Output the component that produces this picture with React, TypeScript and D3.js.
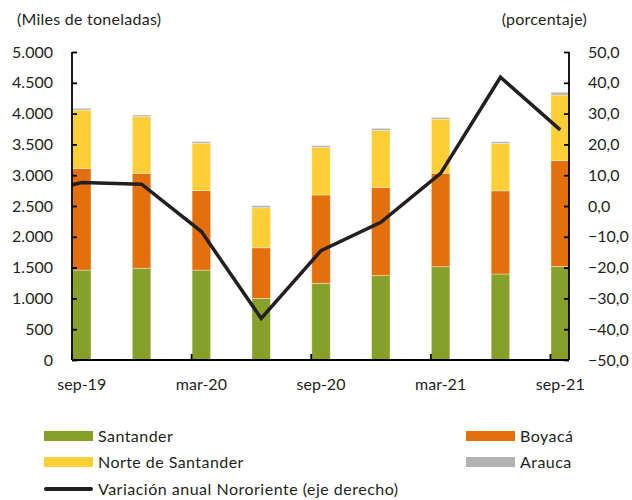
import { useEffect, useRef } from 'react';
import * as d3 from 'd3';

// quarterly data, sep-19 .. sep-21
const quarters = ['sep-19', 'dic-19', 'mar-20', 'jun-20', 'sep-20', 'dic-20', 'mar-21', 'jun-21', 'sep-21'];
const santander = [1460, 1490, 1460, 1000, 1245, 1370, 1515, 1396, 1520];
const boyaca = [1650, 1540, 1290, 822, 1434, 1433, 1516, 1350, 1716];
const norteSantander = [948, 920, 770, 650, 773, 925, 880, 770, 1066];
const arauca = [28, 27, 27, 33, 27, 33, 27, 27, 44];
// annual variation (%), jun-19 is only partly visible (clipped at the left axis)
const variacionPrev = 3.0;
const variacion = [7.6, 7.1, -8.3, -36.5, -14.5, -5.3, 10.6, 41.8, 24.7];

const leftTicks = [0, 500, 1000, 1500, 2000, 2500, 3000, 3500, 4000, 4500, 5000];
const rightTicks = [-50, -40, -30, -20, -10, 0, 10, 20, 30, 40, 50];
const labelEvery = 2;

const seriesNames = ['Santander', 'Boyacá', 'Norte de Santander', 'Arauca'];
const colors = ['#86a02a', '#e3700c', '#fdcf37', '#b2b2b2'];

const App = () => {
    const svgRef = useRef(null);
    const width = 632;
    const height = 500;
    const font = 'Lato, "Open Sans", sans-serif';
    const textColor = '#231f20';

    useEffect(() => {
        const svg = d3.select(svgRef.current);
        svg.selectAll('*').remove();

        const left = 72;
        const right = 569;
        const top = 52;
        const bottom = 360;
        const barW = 18.5;

        const x = d3.scaleLinear().domain([0, quarters.length - 1]).range([left, right - barW]);
        const yL = d3.scaleLinear().domain([0, 5000]).range([bottom, top]);
        const yR = d3.scaleLinear().domain([-50, 50]).range([bottom, top]);

        const rows = quarters.map((q, i) => ({
            q, i,
            Santander: santander[i],
            'Boyacá': boyaca[i],
            'Norte de Santander': norteSantander[i],
            Arauca: arauca[i],
        }));
        const stack = d3.stack().keys(seriesNames)(rows as any);

        svg.append('defs').append('clipPath').attr('id', 'plot-clip')
            .append('rect').attr('x', left).attr('y', 0).attr('width', right - left).attr('height', height);

        stack.forEach((layer, k) => {
            svg.append('g')
                .selectAll('rect')
                .data(layer)
                .join('rect')
                .attr('x', (d, i) => x(i) + 0.5)
                .attr('y', d => yL(d[1]))
                .attr('width', barW)
                .attr('height', d => yL(d[0]) - yL(d[1]))
                .attr('fill', colors[k])
                .attr('stroke', 'rgba(255,255,255,0.45)')
                .attr('stroke-width', 0.8);
        });

        // line on right axis
        const pts: [number, number][] = [[x(-1) + barW / 2, yR(variacionPrev)]].concat(
            variacion.map((v, i) => [x(i) + barW / 2 + 0.5, yR(v)] as [number, number])
        ) as [number, number][];
        svg.append('path')
            .attr('clip-path', 'url(#plot-clip)')
            .attr('d', d3.line()(pts))
            .attr('fill', 'none')
            .attr('stroke', '#231f20')
            .attr('stroke-width', 3.5)
            .attr('stroke-linejoin', 'miter');

        // axes
        const axisL = svg.append('g').attr('transform', `translate(${left},0)`)
            .call(d3.axisLeft(yL).tickValues(leftTicks).tickSize(-5).tickPadding(19)
                .tickFormat(d => d3.format(',')(d as number).replace(/,/g, '.')));
        const axisR = svg.append('g').attr('transform', `translate(${right},0)`)
            .call(d3.axisRight(yR).tickValues(rightTicks).tickSize(-5).tickPadding(19)
                .tickFormat(d => d3.format('.1f')(d as number).replace('.', ',')));
        [axisL, axisR].forEach(a => {
            a.select('.domain').attr('stroke', '#000').attr('stroke-width', 1.8)
                .attr('d', `M0,${top}V${bottom}`);
            a.selectAll('.tick line').attr('stroke', '#000').attr('stroke-width', 1.8);
            a.selectAll('text').attr('fill', textColor).style('font-size', '16px').style('font-family', font);
        });

        const xAxis = svg.append('g');
        xAxis.append('line')
            .attr('x1', left).attr('x2', right)
            .attr('y1', bottom).attr('y2', bottom)
            .attr('stroke', '#000').attr('stroke-width', 2);
        const labelled = quarters.map((q, i) => i).filter(i => i % labelEvery === 0);
        xAxis.selectAll('line.tick')
            .data(labelled)
            .join('line')
            .attr('class', 'tick')
            .attr('x1', i => x(i)).attr('x2', i => x(i))
            .attr('y1', bottom).attr('y2', bottom - 6)
            .attr('stroke', '#000').attr('stroke-width', 1.8);
        xAxis.selectAll('text')
            .data(labelled)
            .join('text')
            .attr('x', i => x(i) + barW / 2 + 0.5)
            .attr('y', 390)
            .attr('text-anchor', 'middle')
            .attr('fill', textColor)
            .style('font-size', '16px')
            .style('font-family', font)
            .text(i => quarters[i]);

        // axis titles
        svg.append('text').attr('x', 17).attr('y', 25)
            .attr('fill', textColor).style('font-size', '16px').style('font-family', font)
            .style('letter-spacing', '0.25px')
            .text('(Miles de toneladas)');
        svg.append('text').attr('x', 587).attr('y', 25).attr('text-anchor', 'end')
            .attr('fill', textColor).style('font-size', '16px').style('font-family', font)
            .style('letter-spacing', '0.25px')
            .text('(porcentaje)');

        // legend
        const legendItems = [
            { name: 'Santander', color: colors[0], x: 44, y: 436 },
            { name: 'Boyacá', color: colors[1], x: 466, y: 436 },
            { name: 'Norte de Santander', color: colors[2], x: 44, y: 462 },
            { name: 'Arauca', color: colors[3], x: 466, y: 462 },
        ];
        const lg = svg.append('g');
        legendItems.forEach(it => {
            lg.append('rect').attr('x', it.x).attr('y', it.y - 5).attr('width', 49).attr('height', 10)
                .attr('fill', it.color);
            lg.append('text').attr('x', it.x + 54).attr('y', it.y + 6)
                .attr('fill', textColor).style('font-size', '16px').style('font-family', font)
                .style('letter-spacing', '0.45px')
                .text(it.name);
        });
        lg.append('line').attr('x1', 46).attr('x2', 91).attr('y1', 489).attr('y2', 489)
            .attr('stroke', '#231f20').attr('stroke-width', 4).attr('stroke-linecap', 'round');
        lg.append('text').attr('x', 98).attr('y', 495)
            .attr('fill', textColor).style('font-size', '16px').style('font-family', font)
            .style('letter-spacing', '0.5px')
            .text('Variación anual Nororiente (eje derecho)');
    }, []);

    return (
        <div style={{ position: 'absolute', left: 0, top: 0 }}>
            <svg ref={svgRef} width={width} height={height} style={{ display: 'block', background: '#fff' }}></svg>
        </div>
    );
};

export default App;
